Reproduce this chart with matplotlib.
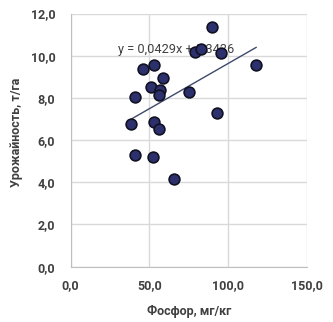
import matplotlib.pyplot as plt
import numpy as np
from matplotlib.ticker import FuncFormatter, MultipleLocator

# phosphorus (mg/kg) vs yield (t/ha)
phosphorus = [89.6, 78.7, 82.9, 95.3, 117.7, 52.9, 46.0, 58.9, 50.8, 57.0,
              55.9, 74.9, 41.1, 38.6, 52.7, 55.9, 92.6, 40.7, 52.1, 65.6]
yield_t = [11.37, 10.16, 10.30, 10.11, 9.57, 9.57, 9.35, 8.94, 8.53, 8.39,
           8.15, 8.28, 8.06, 6.76, 6.84, 6.54, 7.27, 5.28, 5.21, 4.14]
slope = 0.0429
intercept = 5.3436

plt.rcParams['font.family'] = ['Roboto', 'DejaVu Sans']

fig = plt.figure(figsize=(3.33, 3.22), dpi=100)
ax = fig.add_axes([0.212, 0.172, 0.71, 0.786])

ax.grid(True, color='#d9d9d9', linewidth=1.0)
ax.set_axisbelow(True)

ax.scatter(phosphorus, yield_t, s=60, color='#2c316e', edgecolors='#111122',
           linewidths=1.2, zorder=3)

xs = np.array([min(phosphorus), max(phosphorus)])
ax.plot(xs, slope * xs + intercept, color='#3f4a6a', linewidth=1.0, zorder=2)

# equation label sits under the markers, as in the original
ax.text(30.0, 10.3, 'y = 0,0429x + 5,3436', fontsize=9.2, color='#404040',
        va='center', ha='left', zorder=2.5)

ax.set_xlim(0, 150)
ax.set_ylim(0, 12)
ax.xaxis.set_major_locator(MultipleLocator(50))
ax.yaxis.set_major_locator(MultipleLocator(2))
fmt = FuncFormatter(lambda v, p: f'{v:.1f}'.replace('.', ','))
ax.xaxis.set_major_formatter(fmt)
ax.yaxis.set_major_formatter(fmt)

for s in ['top', 'right']:
    ax.spines[s].set_visible(False)
for s in ['left', 'bottom']:
    ax.spines[s].set_color('#bfbfbf')
ax.tick_params(length=0, labelsize=9, labelcolor='#404040')
ax.tick_params(axis='y', pad=11)
ax.tick_params(axis='x', pad=9)
for lbl in ax.get_xticklabels() + ax.get_yticklabels():
    lbl.set_fontweight('bold')

ax.set_xlabel('Фосфор, мг/кг', fontsize=9, fontweight='bold', color='#404040')
ax.xaxis.set_label_coords(0.5, -0.15)
ax.set_ylabel('Урожайность, т/га', fontsize=9, fontweight='bold', color='#404040')
ax.yaxis.set_label_coords(-0.2, 0.53)

fig.savefig('out.png', dpi=100)
